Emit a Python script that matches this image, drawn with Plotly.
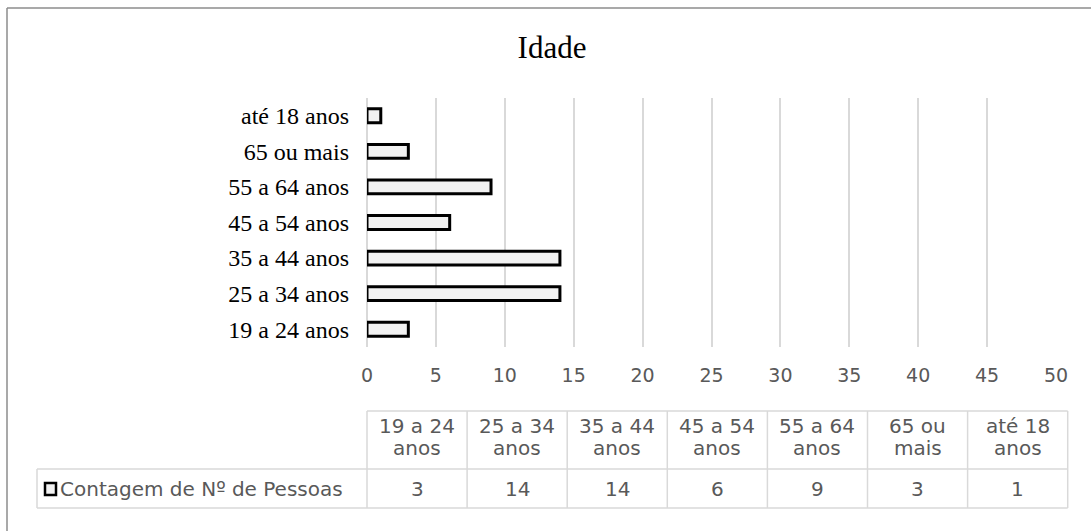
import plotly.graph_objects as go

categories = ["19 a 24 anos", "25 a 34 anos", "35 a 44 anos", "45 a 54 anos",
              "55 a 64 anos", "65 ou mais", "até 18 anos"]
counts = [3, 14, 14, 6, 9, 3, 1]
series_name = "Contagem de Nº de Pessoas"
title_text = "Idade"
x_ticks = [0, 5, 10, 15, 20, 25, 30, 35, 40, 45, 50]

W, H = 1091, 531
PL, PR, PT, PB = 367, 1056, 98, 347  # plot area in pixels

def px(x):
    return (x - PL) / (PR - PL)

def py(y):
    return (PB - y) / (PB - PT)

SERIF = "Liberation Serif, Times New Roman, serif"
SANS = "DejaVu Sans, Verdana, sans-serif"
GRAY_TXT = "#595959"
GRID = "#d9d9d9"
FILL = "#f2f2f2"

fig = go.Figure(go.Bar(
    y=categories, x=counts, orientation="h", name=series_name,
    marker=dict(color=FILL, line=dict(color="black", width=3)),
))

shapes = []
annotations = []

# outer chart border (top + left visible)
shapes.append(dict(type="line", xref="paper", yref="paper",
                   x0=px(7), x1=px(7), y0=py(531), y1=py(8),
                   line=dict(color="#8c8c8c", width=1.5)))
shapes.append(dict(type="line", xref="paper", yref="paper",
                   x0=px(7), x1=px(1091), y0=py(8), y1=py(8),
                   line=dict(color="#8c8c8c", width=1.5)))

# data table
T_TOP, T_MID, T_BOT = 411, 469, 508
C0, CW = 367, 100.1
LEG_L = 37
n = len(categories)
C_END = C0 + CW * n
tl = dict(color=GRID, width=1.5)
shapes.append(dict(type="line", xref="paper", yref="paper",
                   x0=px(C0), x1=px(C_END), y0=py(T_TOP), y1=py(T_TOP), line=tl))
for yy in (T_MID, T_BOT):
    shapes.append(dict(type="line", xref="paper", yref="paper",
                       x0=px(LEG_L), x1=px(C_END), y0=py(yy), y1=py(yy), line=tl))
shapes.append(dict(type="line", xref="paper", yref="paper",
                   x0=px(LEG_L), x1=px(LEG_L), y0=py(T_MID), y1=py(T_BOT), line=tl))
for i in range(n + 1):
    xx = C0 + CW * i
    shapes.append(dict(type="line", xref="paper", yref="paper",
                       x0=px(xx), x1=px(xx), y0=py(T_TOP), y1=py(T_BOT), line=tl))

tfont = dict(family=SANS, size=20, color=GRAY_TXT)
for i, (cat, val) in enumerate(zip(categories, counts)):
    cx = C0 + CW * (i + 0.5)
    head, tail = cat.rsplit(" ", 1)
    for txt, yy in ((head, 426), (tail, 448), (str(val), 489)):
        annotations.append(dict(xref="paper", yref="paper", x=px(cx), y=py(yy),
                                text=txt, showarrow=False,
                                xanchor="center", yanchor="middle", font=tfont))

# legend key in table
shapes.append(dict(type="rect", xref="paper", yref="paper",
                   x0=px(45), x1=px(56), y0=py(495), y1=py(483),
                   fillcolor=FILL, line=dict(color="black", width=2.5)))
annotations.append(dict(xref="paper", yref="paper", x=px(58), y=py(489),
                        text=series_name, showarrow=False,
                        xanchor="left", yanchor="middle", font=tfont))

fig.update_layout(
    width=W, height=H,
    margin=dict(l=PL, r=W - PR, t=PT, b=H - PB),
    paper_bgcolor="white", plot_bgcolor="white",
    showlegend=False,
    bargap=0.61,
    title=dict(text=title_text, x=552 / W, xref="container", xanchor="center",
               y=1 - 47 / H, yref="container", yanchor="middle",
               font=dict(family=SERIF, size=31, color="black")),
    xaxis=dict(range=[0, 50], tickvals=x_ticks, showgrid=True, gridcolor=GRID,
               gridwidth=1.5, zeroline=True, zerolinecolor=GRID, zerolinewidth=1.5,
               showline=False, ticks="", ticklabelstandoff=15,
               tickfont=dict(family=SANS, size=19, color=GRAY_TXT), fixedrange=True),
    yaxis=dict(type="category", categoryorder="array", categoryarray=categories,
               showgrid=False, zeroline=False, showline=False, ticks="",
               ticklabelstandoff=17,
               tickfont=dict(family=SERIF, size=24, color="black")),
    shapes=shapes, annotations=annotations,
)

fig.write_html("out.html", config={"displayModeBar": False},
               post_script="document.body.style.margin='0';")
